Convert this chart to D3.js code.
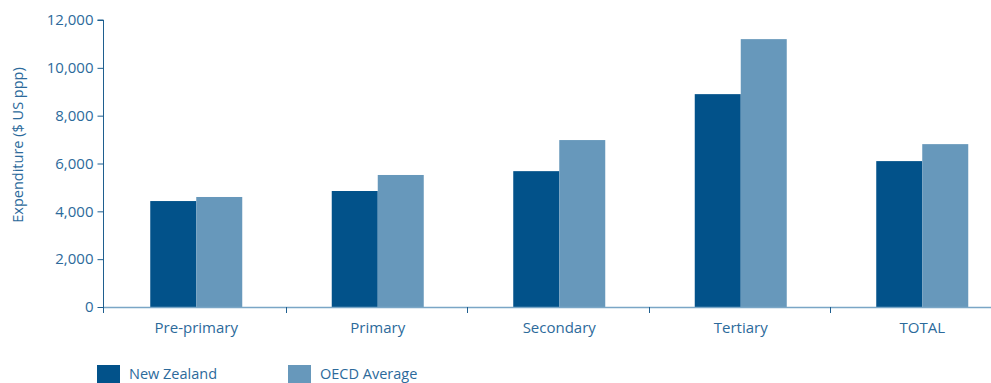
<!DOCTYPE html>
<html>
<head>
<meta charset="utf-8">
<script src="https://cdn.jsdelivr.net/npm/d3@7"></script>
<style>
  html, body { margin: 0; padding: 0; background: #fff; overflow: hidden; }
  svg { display: block; }
  text { font-family: "Open Sans", "DejaVu Sans", sans-serif; fill: #2c6a9b; }
</style>
</head>
<body>
<svg id="chart" width="991" height="383"></svg>
<script>
// Expenditure per student by level of education ($ US ppp)
const categories = ["Pre-primary", "Primary", "Secondary", "Tertiary", "TOTAL"];
const seriesNames = ["New Zealand", "OECD Average"];
const newZealand = [4430, 4850, 5680, 8900, 6100];
const oecdAverage = [4600, 5520, 6980, 11200, 6810];
const yTicks = [0, 2000, 4000, 6000, 8000, 10000, 12000];
const yTitle = "Expenditure ($ US ppp)";

const colors = ["#02528a", "#6798bb"];
const svg = d3.select("#chart");

// Plot area; the category axis runs past the right edge of the view
const x0 = 104, x1 = 1011.5, yTop = 20, yBase = 307;

const x = d3.scaleBand().domain(categories).range([x0, x1]).paddingInner(0).paddingOuter(0);
const groupW = 92;
const groupShift = 1.5;
const xs = d3.scaleBand().domain(seriesNames).range([0, groupW]).padding(0);
const y = d3.scaleLinear().domain([0, 12000]).range([yBase, yTop]);

const series = [newZealand, oecdAverage];

// Bars
seriesNames.forEach((name, si) => {
  svg.append("g")
    .selectAll("rect")
    .data(categories)
    .join("rect")
    .attr("x", (c) => x(c) + x.bandwidth() / 2 - groupW / 2 + groupShift + xs(name))
    .attr("width", xs.bandwidth())
    .attr("y", (c, i) => y(series[si][i]))
    .attr("height", (c, i) => yBase - y(series[si][i]))
    .attr("fill", colors[si]);
});

// X axis baseline
svg.append("line")
  .attr("x1", x0 - 1).attr("x2", x1)
  .attr("y1", yBase + 0.5).attr("y2", yBase + 0.5)
  .attr("stroke", "#7aa6c6").attr("stroke-width", 1.5);

// X axis: ticks at category boundaries, labels centred in bands
const xAxis = svg.append("g");
xAxis.selectAll("line.tick")
  .data(categories.slice(1))
  .join("line")
  .attr("x1", (c) => Math.round(x(c)) + 0.5)
  .attr("x2", (c) => Math.round(x(c)) + 0.5)
  .attr("y1", yBase).attr("y2", yBase + 6)
  .attr("stroke", "#1f5f8f").attr("stroke-width", 1);
xAxis.selectAll("text")
  .data(categories)
  .join("text")
  .attr("x", (c) => x(c) + x.bandwidth() / 2 + groupShift)
  .attr("y", 333)
  .attr("text-anchor", "middle")
  .attr("font-size", 15)
  .text((c) => c);

// Y axis
const yAxis = d3.axisLeft(y)
  .tickValues(yTicks)
  .tickSize(6)
  .tickPadding(4)
  .tickFormat(d3.format(","));
const gy = svg.append("g")
  .attr("transform", `translate(${x0 - 0.5},0)`)
  .call(yAxis);
gy.select(".domain").attr("stroke", "#1f5f8f").attr("d", `M-6,${yTop}H0V${yBase + 6}`);
gy.selectAll(".tick line").attr("stroke", "#1f5f8f");
gy.selectAll(".tick text")
  .attr("font-size", 15)
  .attr("fill", "#2c6a9b")
  .style("font-family", '"Open Sans", "DejaVu Sans", sans-serif');

// Y axis title
svg.append("text")
  .attr("transform", "translate(23,145) rotate(-90)")
  .attr("text-anchor", "middle")
  .attr("font-size", 14.5)
  .text(yTitle);

// Legend
const legendX = [97, 288];
const legend = svg.append("g");
seriesNames.forEach((name, i) => {
  legend.append("rect")
    .attr("x", legendX[i]).attr("y", 365)
    .attr("width", 23).attr("height", 23)
    .attr("fill", colors[i]);
  legend.append("text")
    .attr("x", legendX[i] + 32).attr("y", 379)
    .attr("font-size", 14.5)
    .text(name);
});
</script>
</body>
</html>
